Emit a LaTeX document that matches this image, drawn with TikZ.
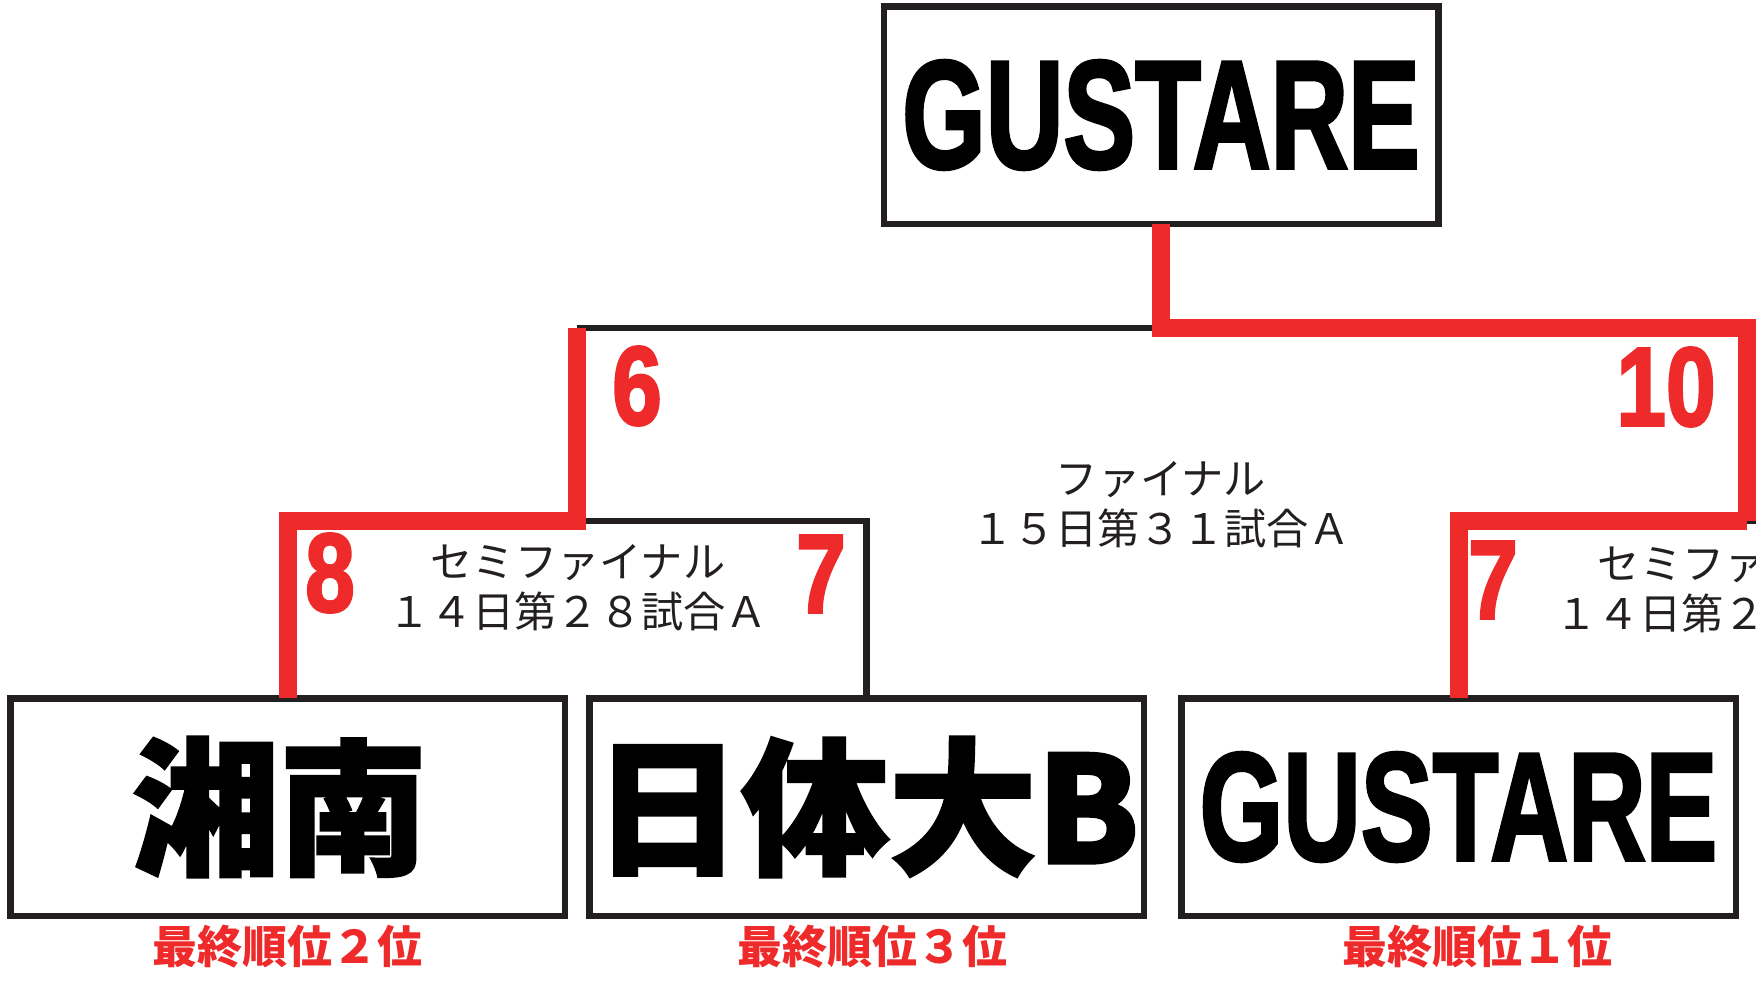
\documentclass[tikz,border=0pt]{standalone}
\usepackage{graphicx}
\usepackage{fontspec}
\setmainfont{Liberation Sans}
\newfontfamily\jpfont{Noto Sans CJK JP}
\newfontfamily\heavyjp[BoldFeatures={FakeBold=2}]{Noto Sans CJK JP}
\newfontfamily\heavylat[BoldFeatures={FakeBold=2.5}]{Liberation Sans}
\usetikzlibrary{positioning}
\definecolor{winred}{RGB}{238,42,42}
\definecolor{ink}{RGB}{35,31,32}
\tikzstyle{team}=[draw=ink, line width=0.65mm, minimum width=55.45mm, minimum height=21.75mm, inner sep=0pt, outer sep=0pt]
\tikzstyle{win}=[draw=winred, line width=1.8mm]
\tikzstyle{lose}=[draw=ink, line width=0.65mm]
\tikzstyle{score}=[text=winred, inner sep=0pt, font=\heavylat\fontsize{31.8}{32}\selectfont\bfseries]
\tikzstyle{rank}=[text=winred, inner sep=0pt, font=\jpfont\fontsize{12.8}{13}\selectfont\bfseries]
\tikzstyle{match}=[text=ink, inner sep=0pt, align=center, font=\jpfont\fontsize{12}{14.2}\selectfont]
\tikzstyle{bigjp}=[font=\heavyjp\fontsize{42}{42}\selectfont\bfseries]
\tikzstyle{biglat}=[font=\heavylat\fontsize{43.7}{44}\selectfont\bfseries]
\newcommand{\narrow}[2]{\scalebox{#1}[1]{#2}}

\begin{document}
\begin{tikzpicture}[x=0.1mm, y=-0.1mm, node distance=2.45mm]
            \useasboundingbox (0,0) rectangle (1756,986);
            \clip (0,0) rectangle (1756,986);

            \node (top) [team, biglat] at (1161,115) {\narrow{0.70}{GUSTARE}};
            \node (shonan) [team, bigjp] at (287.5,807) {\hspace*{-1.6mm}湘南};
            \node (nittai) [team, bigjp] [right=of shonan] {日体大B};
            \node (gustare) [team, biglat] [right=3.75mm of nittai] {\narrow{0.70}{GUSTARE}};
            \node (nextbox) [team] [right=2.35mm of gustare] {};

            \node (rank2) [rank] [below=0.9mm of shonan] {最終順位２位};
            \node (rank3) [rank] [below=0.9mm of nittai, xshift=0.6mm] {最終順位３位};
            \node (rank1) [rank] [below=0.9mm of gustare, xshift=1.9mm] {最終順位１位};

            \coordinate (semiL) at (577,521);
            \coordinate (semiR) at (1747,521);
            \coordinate (finalL) at (577,328);
            \coordinate (finalR) at (1747,328);
            \coordinate (offR) at (1800,521);

            \draw[lose] (finalL) -- (top.south |- finalL);
            \draw[lose] (semiL) -| (nittai.north);
            \draw[lose] (semiR) -- (offR);
            \draw[win] (shonan.north) |- (semiL) -- (finalL);
            \draw[win] (top.south) |- (finalR) -- (semiR);
            \draw[win] (gustare.north) |- (semiR);

            \node (sL) [score] at (330,573) {\narrow{0.8}{8}};
            \node (sN) [score] at (821,574) {\narrow{0.8}{7}};
            \node (sG) [score] at (1493,580) {\narrow{0.8}{7}};
            \node (fL) [score] at (637,386) {\narrow{0.8}{6}};
            \node (fR) [score] at (1666,387) {\narrow{0.8}{10}};

            \node (semiA) [match] at (578,588) {セミファイナル\\１４日第２８試合Ａ};
            \node (final) [match] at (1161,505) {ファイナル\\１５日第３１試合Ａ};
            \node (semiB) [match] at (1745,590) {セミファイナル\\１４日第２９試合Ａ};
\end{tikzpicture}
\end{document}
